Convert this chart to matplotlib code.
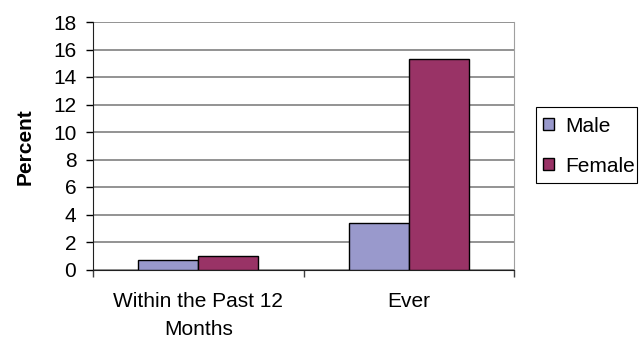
import matplotlib
matplotlib.use("Agg")
import matplotlib.pyplot as plt
from matplotlib.patches import Patch, Rectangle
import numpy as np

plt.rcParams['font.family'] = ['Liberation Sans', 'DejaVu Sans']

categories = ["Within the Past 12\nMonths", "Ever"]
male = [0.7, 3.4]
female = [1.0, 15.3]
series_names = ["Male", "Female"]
colors = ["#9999CC", "#993366"]

W, H = 644, 339
fig = plt.figure(figsize=(W / 100, H / 100), dpi=100)
ax = fig.add_axes([93 / W, 1 - 269.5 / H, (514 - 93) / W, (269.5 - 22) / H])

x = np.arange(len(categories))
w = 0.285
ax.bar(x - w / 2, male, width=w, color=colors[0], edgecolor="black", linewidth=1.0, zorder=3)
ax.bar(x + w / 2, female, width=w, color=colors[1], edgecolor="black", linewidth=1.0, zorder=3)

ax.set_xlim(-0.5, len(categories) - 0.5)
ax.set_ylim(0, 18)
ax.set_yticks(np.arange(0, 19, 2))
ax.tick_params(axis="y", labelsize=15, length=5, width=1, pad=7, direction="out")

# 分类边界画刻度，标签放在中间
ax.set_xticks(np.arange(-0.5, len(categories), 1.0))
ax.set_xticklabels([])
ax.set_xticks(x, minor=True)
ax.set_xticklabels(categories, minor=True, fontsize=15, linespacing=1.65)
ax.tick_params(axis="x", which="major", length=5, width=1, color="#404040")
ax.tick_params(axis="x", which="minor", length=0, pad=16)

ax.grid(axis="y", color="#808080", linewidth=1.2, zorder=0)
ax.set_axisbelow(True)
ax.spines["left"].set_color("#202020")
ax.spines["bottom"].set_color("#202020")
ax.spines["top"].set_visible(False)
ax.spines["right"].set_color("#A0A0A0")

fig.text(25 / W, 1 - 147 / H, "Percent", rotation=90, fontsize=15, fontweight="bold",
         ha="center", va="center")

# 图例外框单独画
fig.patches.append(Rectangle((536 / W, 1 - 183 / H), (637 - 536) / W, (183 - 107) / H,
                             transform=fig.transFigure, facecolor="white", edgecolor="black",
                             linewidth=0.8))
handles = [Patch(facecolor=c, edgecolor="black", linewidth=1.0) for c in colors]
leg = fig.legend(handles, series_names, loc="upper left", bbox_to_anchor=(539 / W, 1 - 112.5 / H),
                 fontsize=15, frameon=False,
                 handlelength=0.5, handleheight=0.5, handletextpad=0.55, labelspacing=1.0,
                 borderpad=0.2, borderaxespad=0)

fig.savefig("out.png", dpi=100)
